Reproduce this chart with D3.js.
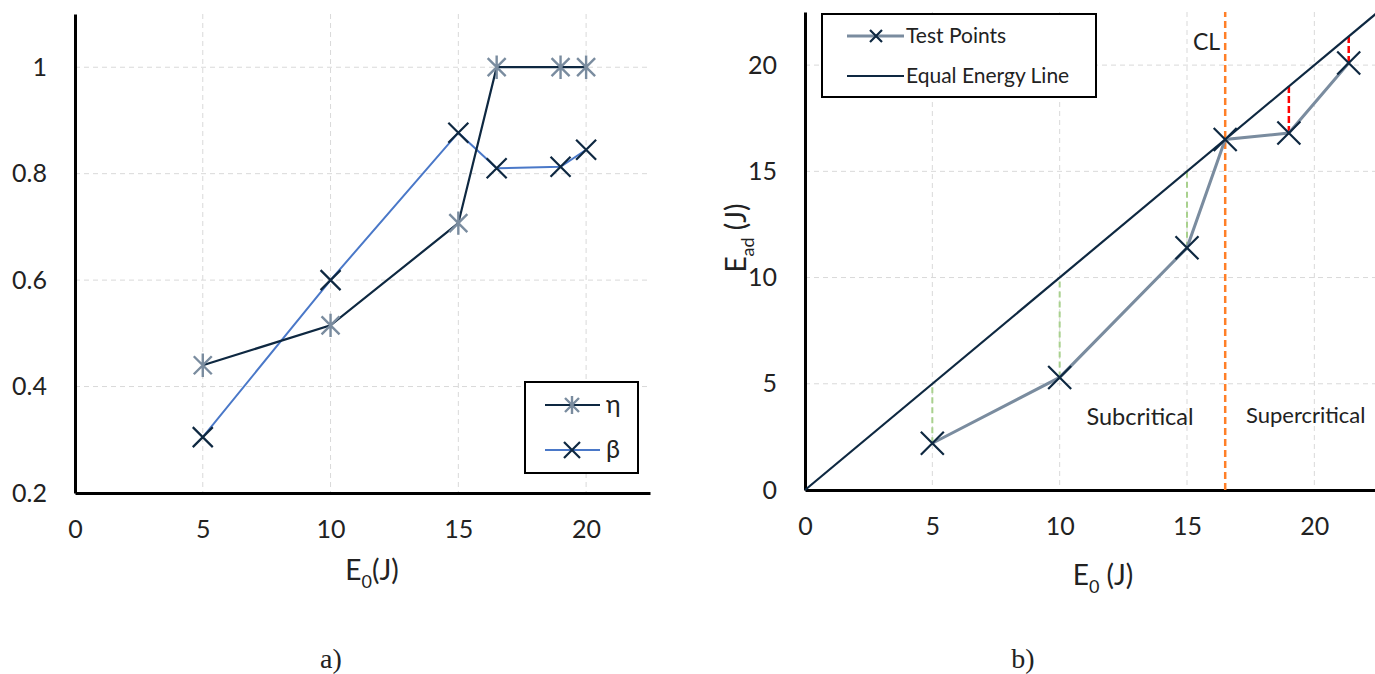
<!DOCTYPE html>
<html><head><meta charset="utf-8">
<script src="https://cdn.jsdelivr.net/npm/d3@7"></script>
<style>
html,body{margin:0;padding:0;background:#fff;}
svg{display:block;}
text{font-family:Lato,"Open Sans",sans-serif;fill:#222;}
</style></head><body>
<svg id="c" width="1375" height="674"></svg>
<script>
// ---- Data: chart a) ----
const xTicksA = [0, 5, 10, 15, 20];
const yTicksA = [0.2, 0.4, 0.6, 0.8, 1];
const yTickLabelsA = ["0.2", "0.4", "0.6", "0.8", "1"];
const e0A = [5, 10, 15, 16.5, 19, 20];
const eta = [0.44, 0.515, 0.707, 1.0, 1.0, 1.0];
const beta = [0.305, 0.60, 0.877, 0.81, 0.813, 0.845];
const legendA = ["η", "β"];

// ---- Data: chart b) ----
const xTicksB = [0, 5, 10, 15, 20];
const yTicksB = [0, 5, 10, 15, 20];
const e0B = [5, 10, 15, 16.5, 19, 21.35];
const eAd = [2.2, 5.3, 11.4, 16.5, 16.8, 20.1];
const equalLine = [0, 22.5];
const criticalE0 = 16.5;
const subIdx = [0, 1, 2];   // subcritical points (green gaps)
const supIdx = [4, 5];      // supercritical points (red gaps)
const legendB = ["Test Points", "Equal Energy Line"];

const svg = d3.select("#c");
const navy = "#0e2841", grey = "#7a8c9f", blue = "#4a78c8", gridC = "#d9d9d9";
const TICK = "25px";

function xMarker(g, x, y, r, color, w) {
  g.append("path").attr("d", `M${x-r},${y-r}L${x+r},${y+r}M${x-r},${y+r}L${x+r},${y-r}`)
    .attr("stroke", color).attr("stroke-width", w).attr("fill", "none");
}
function starMarker(g, x, y, r, color, w) {
  g.append("path").attr("d", `M${x-r},${y-r}L${x+r},${y+r}M${x-r},${y+r}L${x+r},${y-r}M${x},${y-r*1.3}L${x},${y+r*1.3}`)
    .attr("stroke", color).attr("stroke-width", w).attr("fill", "none");
}

// ================= Chart a =================
{
  const x = d3.scaleLinear().domain([0, 22.5]).range([75, 650]);
  const y = d3.scaleLinear().domain([0.2, 1.1]).range([493, 14]);
  const g = svg.append("g");
  g.selectAll(".vg").data(xTicksA.slice(1)).join("line")
    .attr("x1", d => x(d)).attr("x2", d => x(d)).attr("y1", y(1.1)).attr("y2", y(0.2))
    .attr("stroke", gridC).attr("stroke-dasharray", "5,4");
  g.selectAll(".hg").data(yTicksA.slice(1)).join("line")
    .attr("x1", x(0)).attr("x2", x(22.5)).attr("y1", d => y(d)).attr("y2", d => y(d))
    .attr("stroke", gridC).attr("stroke-dasharray", "5,4");
  const ax = g.append("g").attr("transform", `translate(0,${y(0.2)})`)
    .call(d3.axisBottom(x).tickValues(xTicksA).tickSize(0).tickPadding(27));
  ax.select(".domain").attr("stroke", "#000").attr("stroke-width", 3);
  ax.selectAll("text").style("font-size", TICK).style("font-family", "Lato").attr("fill", "#222");
  const ay = g.append("g").attr("transform", `translate(${x(0)},0)`)
    .call(d3.axisLeft(y).tickValues(yTicksA).tickFormat((d, i) => yTickLabelsA[i]).tickSize(0).tickPadding(28));
  ay.select(".domain").attr("stroke", "#000").attr("stroke-width", 3);
  ay.selectAll("text").style("font-size", TICK).style("font-family", "Lato").attr("fill", "#222");

  const line = d3.line().x(d => x(d[0])).y(d => y(d[1]));
  const etaPts = e0A.map((v, i) => [v, eta[i]]);
  const betaPts = e0A.map((v, i) => [v, beta[i]]);
  g.append("path").attr("d", line(betaPts)).attr("fill", "none").attr("stroke", blue).attr("stroke-width", 2);
  g.append("path").attr("d", line(etaPts)).attr("fill", "none").attr("stroke", navy).attr("stroke-width", 2.2);
  etaPts.forEach(p => starMarker(g, x(p[0]), y(p[1]), 9, grey, 2.4));
  betaPts.forEach(p => xMarker(g, x(p[0]), y(p[1]), 10, navy, 2.2));

  const lg = g.append("g");
  lg.append("rect").attr("x", 525).attr("y", 382).attr("width", 113).attr("height", 91)
    .attr("fill", "#fff").attr("stroke", "#000").attr("stroke-width", 2);
  lg.append("line").attr("x1", 545).attr("x2", 600).attr("y1", 405).attr("y2", 405).attr("stroke", navy).attr("stroke-width", 2.2);
  starMarker(lg, 572, 405, 7, grey, 2.4);
  lg.append("line").attr("x1", 545).attr("x2", 600).attr("y1", 450).attr("y2", 450).attr("stroke", blue).attr("stroke-width", 2);
  xMarker(lg, 572, 450, 8, navy, 2.2);
  lg.append("text").attr("x", 606).attr("y", 413).style("font-size", "25px").text(legendA[0]);
  lg.append("text").attr("x", 606).attr("y", 458).style("font-size", "25px").text(legendA[1]);

  const t = g.append("text").attr("x", 372).attr("y", 580).attr("text-anchor", "middle").style("font-size", "28px");
  t.append("tspan").text("E");
  t.append("tspan").attr("dy", 8).style("font-size", "18px").text("0");
  t.append("tspan").attr("dy", -8).text("(J)");
  g.append("text").attr("x", 331).attr("y", 668).attr("text-anchor", "middle")
    .style("font-family", "'Liberation Serif',serif").style("font-size", "28px").attr("fill", "#000").text("a)");
}

// ================= Chart b =================
{
  const x = d3.scaleLinear().domain([0, 22.5]).range([805, 1378]);
  const y = d3.scaleLinear().domain([0, 22.5]).range([490, 12]);
  const g = svg.append("g");
  g.selectAll(".vg").data(xTicksB.slice(1)).join("line")
    .attr("x1", d => x(d)).attr("x2", d => x(d)).attr("y1", y(22.5)).attr("y2", y(0))
    .attr("stroke", gridC).attr("stroke-dasharray", "5,4");
  g.selectAll(".hg").data(yTicksB.slice(1)).join("line")
    .attr("x1", x(0)).attr("x2", x(22.5)).attr("y1", d => y(d)).attr("y2", d => y(d))
    .attr("stroke", gridC).attr("stroke-dasharray", "5,4");

  const ax = g.append("g").attr("transform", `translate(0,${y(0)})`)
    .call(d3.axisBottom(x).tickValues(xTicksB).tickSize(0).tickPadding(27));
  ax.select(".domain").attr("stroke", "#000").attr("stroke-width", 3);
  ax.selectAll("text").style("font-size", TICK).style("font-family", "Lato").attr("fill", "#222");
  const ay = g.append("g").attr("transform", `translate(${x(0)},0)`)
    .call(d3.axisLeft(y).tickValues(yTicksB).tickSize(0).tickPadding(28));
  ay.select(".domain").attr("stroke", "#000").attr("stroke-width", 3);
  ay.selectAll("text").style("font-size", TICK).style("font-family", "Lato").attr("fill", "#222");

  subIdx.forEach(i => g.append("line").attr("x1", x(e0B[i])).attr("x2", x(e0B[i]))
    .attr("y1", y(eAd[i])).attr("y2", y(e0B[i])).attr("stroke", "#a9d18e").attr("stroke-width", 2).attr("stroke-dasharray", "6,4"));
  supIdx.forEach(i => g.append("line").attr("x1", x(e0B[i])).attr("x2", x(e0B[i]))
    .attr("y1", y(eAd[i])).attr("y2", y(e0B[i])).attr("stroke", "#ff0000").attr("stroke-width", 2.5).attr("stroke-dasharray", "7,3"));

  g.append("path").attr("d", d3.line().x(d => x(d)).y(d => y(d))(equalLine))
    .attr("fill", "none").attr("stroke", navy).attr("stroke-width", 2.2);
  g.append("line").attr("x1", x(criticalE0)).attr("x2", x(criticalE0)).attr("y1", y(0)).attr("y2", y(22.5))
    .attr("stroke", "#ff7f27").attr("stroke-width", 2.5).attr("stroke-dasharray", "7,4");

  const pts = e0B.map((v, i) => [v, eAd[i]]);
  g.append("path").attr("d", d3.line().x(d => x(d[0])).y(d => y(d[1]))(pts))
    .attr("fill", "none").attr("stroke", grey).attr("stroke-width", 3);
  pts.forEach(p => xMarker(g, x(p[0]), y(p[1]), 11.5, navy, 2.2));

  g.append("text").attr("x", 1193).attr("y", 50).style("font-size", "23px").text("CL");
  g.append("text").attr("x", 1140).attr("y", 425).attr("text-anchor", "middle").style("font-size", "23.5px").text("Subcritical");
  g.append("text").attr("x", 1246).attr("y", 423).style("font-size", "22px").text("Supercritical");

  const lg = g.append("g");
  lg.append("rect").attr("x", 822).attr("y", 14).attr("width", 274).attr("height", 83)
    .attr("fill", "#fff").attr("stroke", "#000").attr("stroke-width", 2);
  lg.append("line").attr("x1", 847).attr("x2", 904).attr("y1", 36).attr("y2", 36).attr("stroke", grey).attr("stroke-width", 3);
  xMarker(lg, 876, 36, 6, navy, 2.2);
  lg.append("line").attr("x1", 847).attr("x2", 904).attr("y1", 76).attr("y2", 76).attr("stroke", navy).attr("stroke-width", 2.2);
  lg.append("text").attr("x", 906).attr("y", 43).style("font-size", "21px").text(legendB[0]);
  lg.append("text").attr("x", 906).attr("y", 83).style("font-size", "21px").text(legendB[1]);

  const t = g.append("text").attr("x", 1103).attr("y", 585).attr("text-anchor", "middle").style("font-size", "28px");
  t.append("tspan").text("E");
  t.append("tspan").attr("dy", 8).style("font-size", "18px").text("0");
  t.append("tspan").attr("dy", -8).text(" (J)");
  const ty = g.append("text").attr("transform", "translate(746,238) rotate(-90)").attr("text-anchor", "middle").style("font-size", "28px");
  ty.append("tspan").text("E");
  ty.append("tspan").attr("dy", 8).style("font-size", "18px").text("ad");
  ty.append("tspan").attr("dy", -8).text(" (J)");
  g.append("text").attr("x", 1023).attr("y", 668).attr("text-anchor", "middle")
    .style("font-family", "'Liberation Serif',serif").style("font-size", "28px").attr("fill", "#000").text("b)");
}
</script></body></html>
